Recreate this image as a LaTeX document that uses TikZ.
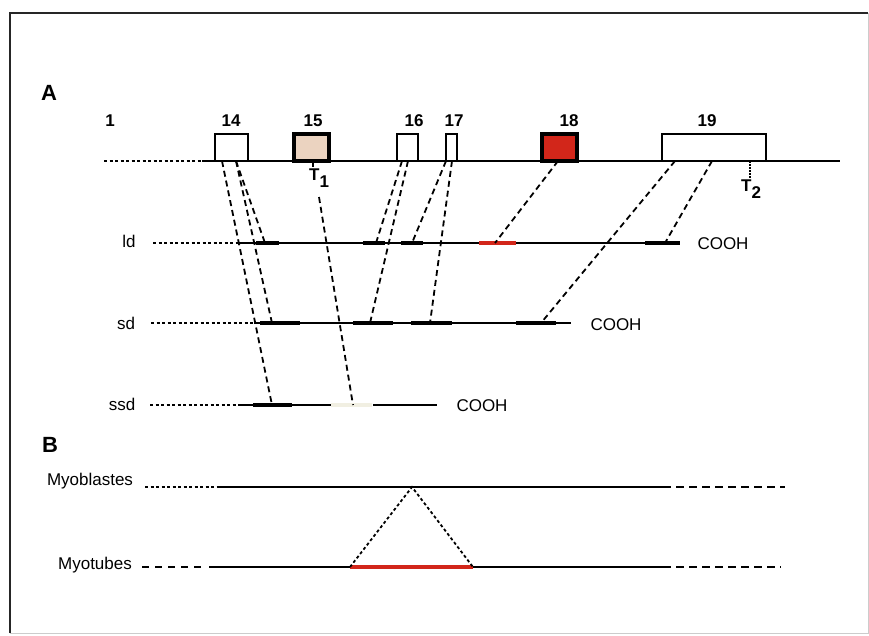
\documentclass[tikz,border=0pt]{standalone}
\usepackage{fontspec}
\setmainfont{Liberation Sans}
\definecolor{beige}{HTML}{EBD3C0}
\definecolor{exred}{HTML}{D2261A}
\definecolor{faint}{HTML}{F1EFE2}
\begin{document}
\begin{tikzpicture}[x=1pt,y=-1pt,
  lbl/.style={font=\fontsize{17}{19}\selectfont, inner sep=0pt},
  num/.style={font=\fontsize{17}{19}\selectfont\bfseries, inner sep=0pt},
  big/.style={font=\fontsize{22}{24}\selectfont\bfseries, inner sep=0pt},
  exonbox/.style={draw, line width=1.8pt, minimum height=27pt, anchor=south west, inner sep=0pt, outer sep=0pt},
  main/.style={line width=2pt},
  thick seg/.style={line width=4pt},
  conn/.style={line width=1.8pt, dash pattern=on 6pt off 4pt},
  dots/.style={line width=1.8pt, dash pattern=on 3pt off 2.5pt},
  longdash/.style={line width=2pt, dash pattern=on 8pt off 5pt}]
\useasboundingbox (0,0) rectangle (869,635);
\fill[white] (0,0) rectangle (869,635);
% frame
\draw[line width=2pt, black!85] (10,633) -- (10,13) -- (868,13);
\draw[line width=0.8pt, black!20] (868,13) -- (868,633) -- (10,633);

\node[big] (A) at (49,93) {A};
\node[big] (B) at (50,445) {B};

% genomic line
\draw[dots] (104,161) -- (202,161);
\draw[main] (202,161) -- (840,161);
\node[exonbox, minimum width=33pt] (e14) at (215,161) {};
\node[exonbox, minimum width=35pt, fill=beige, line width=3.2pt] (e15) at (294,161) {};
\node[exonbox, minimum width=21pt] (e16) at (397,161) {};
\node[exonbox, minimum width=11pt] (e17) at (446,161) {};
\node[exonbox, minimum width=35pt, fill=exred, line width=3.2pt] (e18) at (542,161) {};
\node[exonbox, minimum width=104pt] (e19) at (662,161) {};
\node[num] (n1) at (110,121) {1};
\node[num] (n14) at (231,121) {14};
\node[num] (n15) at (313,121) {15};
\node[num] (n16) at (414,121) {16};
\node[num] (n17) at (454,121) {17};
\node[num] (n18) at (569,121) {18};
\node[num] (n19) at (707,121) {19};

% T1, T2
\coordinate (t1top) at (313,161);
\coordinate (t1bot) at (313,167);
\draw[line width=1.6pt] (t1top) -- (t1bot);
\node[font=\fontsize{17}{19}\selectfont\bfseries, inner sep=0pt, anchor=west] (T1) at (309,178) {T\raisebox{-7pt}{1}};
\coordinate (t2top) at (750,161);
\coordinate (t2bot) at (750,178);
\draw[line width=1.3pt, dash pattern=on 1.5pt off 1.5pt] (t2top) -- (t2bot);
\node[font=\fontsize{17}{19}\selectfont\bfseries, inner sep=0pt, anchor=west] (T2) at (741,189) {T\raisebox{-7pt}{2}};

% ld line (y=243)
\node[lbl] (ld) at (129,241) {ld};
\draw[dots] (153,243) -- (237,243);
\draw[main] (237,243) -- (680,243);
\draw[thick seg] (256,243) -- (279,243);
\draw[thick seg] (363,243) -- (385,243);
\draw[thick seg] (401,243) -- (423,243);
\draw[thick seg, exred] (479,243) -- (516,243);
\draw[thick seg] (645,243) -- (680,243);
\node[lbl] (c1) at (723,244) {COOH};

% sd line (y=323)
\node[lbl] (sd) at (126,323) {sd};
\draw[dots] (151,323) -- (254,323);
\draw[main] (254,323) -- (571,323);
\draw[thick seg] (260,323) -- (300,323);
\draw[thick seg] (353,323) -- (393,323);
\draw[thick seg] (411,323) -- (452,323);
\draw[thick seg] (516,323) -- (556,323);
\node[lbl] (c2) at (616,325) {COOH};

% ssd line (y=405)
\node[lbl] (ssd) at (122,404) {ssd};
\draw[dots] (150,405) -- (240,405);
\draw[main] (240,405) -- (331,405);
\draw[thick seg] (253,405) -- (292,405);
\draw[thick seg, faint] (331,405) -- (372,405);
\draw[main] (373,405) -- (437,405);
\node[lbl] (c3) at (482,406) {COOH};

% connector end points
\coordinate (g14a) at (222,161);
\coordinate (g14b) at (236,161);
\coordinate (g16a) at (402,161);
\coordinate (g16b) at (408,161);
\coordinate (g17a) at (446,161);
\coordinate (g17b) at (452,161);
\coordinate (g18) at (558,161);
\coordinate (g19a) at (675,161);
\coordinate (g19b) at (712,161);
\coordinate (t1c) at (319,197);
\coordinate (l14) at (265,243);
\coordinate (l16) at (376,243);
\coordinate (l17) at (412,243);
\coordinate (l18) at (495,243);
\coordinate (l19) at (665,243);
\coordinate (s14) at (272,323);
\coordinate (s16) at (370,323);
\coordinate (s17) at (430,323);
\coordinate (s19) at (541,323);
\coordinate (ss14) at (272,405);
\coordinate (ss15) at (353,405);

\draw[conn] (g14a) -- (ss14);
\draw[conn] (g14b) -- (l14);
\draw[conn] (g14b) -- (s14);
\draw[conn] (t1c) -- (ss15);
\draw[conn] (g16a) -- (l16);
\draw[conn] (g16b) -- (s16);
\draw[conn] (g17a) -- (l17);
\draw[conn] (g17b) -- (s17);
\draw[conn] (g18) -- (l18);
\draw[conn] (g19a) -- (s19);
\draw[conn] (g19b) -- (l19);

% Panel B
\node[lbl] (mb) at (90,481) {Myoblastes};
\node[lbl] (mt) at (95,565) {Myotubes};
\draw[dots] (145,487) -- (217,487);
\draw[main] (217,487) -- (663,487);
\draw[longdash] (663,487) -- (785,487);
\draw[line width=2pt, dash pattern=on 7pt off 6pt] (142,567) -- (206,567);
\draw[main] (209,567) -- (663,567);
\draw[longdash] (663,567) -- (781,567);
\coordinate (apex) at (412,487);
\coordinate (rl) at (350,567);
\coordinate (rr) at (473,567);
\draw[line width=3.5pt, exred] (rl) -- (rr);
\draw[dots] (rl) -- (apex) -- (rr);
\end{tikzpicture}
\end{document}
